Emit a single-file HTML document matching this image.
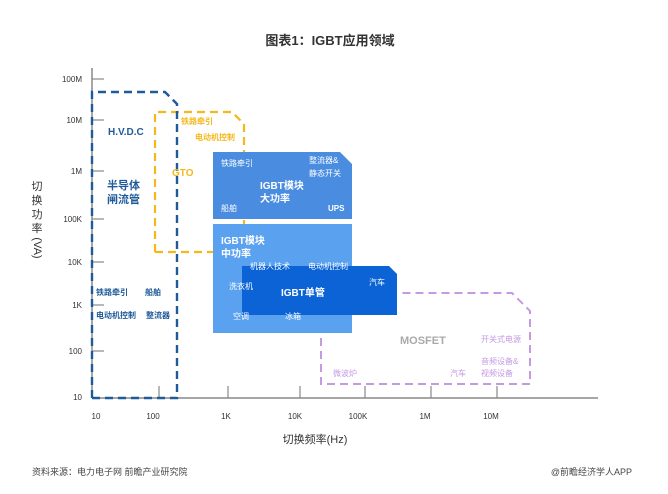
<!DOCTYPE html>
<html><head><meta charset="utf-8"><style>
body{margin:0;background:#fff}
svg{display:block}
text{font-family:"Liberation Sans","Noto Sans CJK SC",sans-serif}
</style></head><body>
<svg width="668" height="494" viewBox="0 0 668 494" xmlns="http://www.w3.org/2000/svg">
<text x="330" y="45" font-size="13" font-weight="bold" fill="#333" text-anchor="middle">图表1：IGBT应用领域</text>
<g stroke="#888" stroke-width="1.5" fill="none">
<line x1="92" y1="68" x2="92" y2="398"/>
<line x1="92" y1="398" x2="598" y2="398"/>
<g stroke-width="1.2">
<line x1="92" y1="79" x2="104" y2="79"/><line x1="92" y1="120" x2="104" y2="120"/>
<line x1="92" y1="171" x2="104" y2="171"/><line x1="92" y1="219" x2="104" y2="219"/>
<line x1="92" y1="262" x2="104" y2="262"/><line x1="92" y1="305" x2="104" y2="305"/>
<line x1="92" y1="351" x2="104" y2="351"/>
<line x1="159" y1="386" x2="159" y2="398"/><line x1="228" y1="386" x2="228" y2="398"/>
<line x1="300" y1="386" x2="300" y2="398"/><line x1="365" y1="386" x2="365" y2="398"/>
<line x1="431" y1="386" x2="431" y2="398"/><line x1="497" y1="386" x2="497" y2="398"/>
</g></g>
<g font-size="8" fill="#333" text-anchor="end">
<text x="82" y="82">100M</text><text x="82" y="123">10M</text><text x="82" y="174">1M</text>
<text x="82" y="222">100K</text><text x="82" y="265">10K</text><text x="82" y="308">1K</text>
<text x="82" y="354">100</text><text x="82" y="400">10</text>
</g>
<g font-size="8" fill="#333" text-anchor="middle">
<text x="96" y="419">10</text><text x="153" y="419">100</text><text x="226" y="419">1K</text>
<text x="295" y="419">10K</text><text x="358" y="419">100K</text><text x="425" y="419">1M</text><text x="491" y="419">10M</text>
</g>
<text x="315" y="443" font-size="11" fill="#333" text-anchor="middle">切换频率(Hz)</text>
<g font-size="11" fill="#333" text-anchor="middle">
<text x="37" y="190">切</text><text x="37" y="204">换</text><text x="37" y="218">功</text><text x="37" y="232">率</text>
<text x="37" y="248" transform="rotate(90 37 248)" dominant-baseline="central">(VA)</text>
</g>
<path d="M155 252 V112 H232 L244 124 V152 M244 220 V224 M155 252 H213" fill="none" stroke="#f5b81c" stroke-width="2.2" stroke-dasharray="8 5"/>
<path d="M92 398 V92 H165 L177 104 V398 H92" fill="none" stroke="#1f5a99" stroke-width="2.4" stroke-dasharray="8 5"/>
<path d="M213 152 H340 L352 164 V219 H213 Z" fill="#4a8de0"/>
<rect x="213" y="224" width="139" height="109" fill="#5aa2ef"/>
<path d="M242 266 H389 L397 274 V315 H242 Z" fill="#0b63d6"/>
<path d="M321 338 V384 H530 V311 L512 293 H398" fill="none" stroke="#c49ae3" stroke-width="2" stroke-dasharray="8 5"/>
<g font-weight="bold" fill="#1f5a99">
<text x="108" y="135" font-size="10">H.V.D.C</text>
<text x="107" y="189" font-size="11">半导体</text><text x="107" y="203" font-size="11">闸流管</text>
<text x="96" y="295" font-size="8">铁路牵引</text><text x="145" y="295" font-size="8">船舶</text>
<text x="96" y="318" font-size="8">电动机控制</text><text x="146" y="318" font-size="8">整流器</text>
</g>
<g font-weight="bold" fill="#f5b81c">
<text x="172" y="176" font-size="10">GTO</text>
<text x="181" y="124" font-size="8">铁路牵引</text><text x="195" y="140" font-size="8">电动机控制</text>
</g>
<g fill="#fff" font-size="8">
<text x="221" y="166">铁路牵引</text><text x="309" y="163">整流器&amp;</text><text x="309" y="176">静态开关</text>
<text x="260" y="189" font-size="10" font-weight="bold">IGBT模块</text><text x="260" y="202" font-size="10" font-weight="bold">大功率</text>
<text x="221" y="211">船舶</text><text x="328" y="211" font-weight="bold">UPS</text>
<text x="221" y="244" font-size="10" font-weight="bold">IGBT模块</text><text x="221" y="257" font-size="10" font-weight="bold">中功率</text>
<text x="250" y="269">机器人技术</text><text x="308" y="269">电动机控制</text>
<text x="229" y="289">洗衣机</text><text x="281" y="296" font-size="10" font-weight="bold">IGBT单管</text>
<text x="369" y="285">汽车</text><text x="233" y="319">空调</text><text x="285" y="319">冰箱</text>
</g>
<g fill="#c49ae3" font-size="8">
<text x="400" y="344" font-size="11" font-weight="bold" fill="#aaa">MOSFET</text>
<text x="481" y="342">开关式电源</text><text x="481" y="364">音频设备&amp;</text><text x="481" y="376">视频设备</text>
<text x="450" y="376">汽车</text><text x="333" y="376">微波炉</text>
</g>
<text x="32" y="475" font-size="9" fill="#444">资料来源：电力电子网 前瞻产业研究院</text>
<text x="632" y="475" font-size="9" fill="#444" text-anchor="end">@前瞻经济学人APP</text>
</svg>
</body></html>
